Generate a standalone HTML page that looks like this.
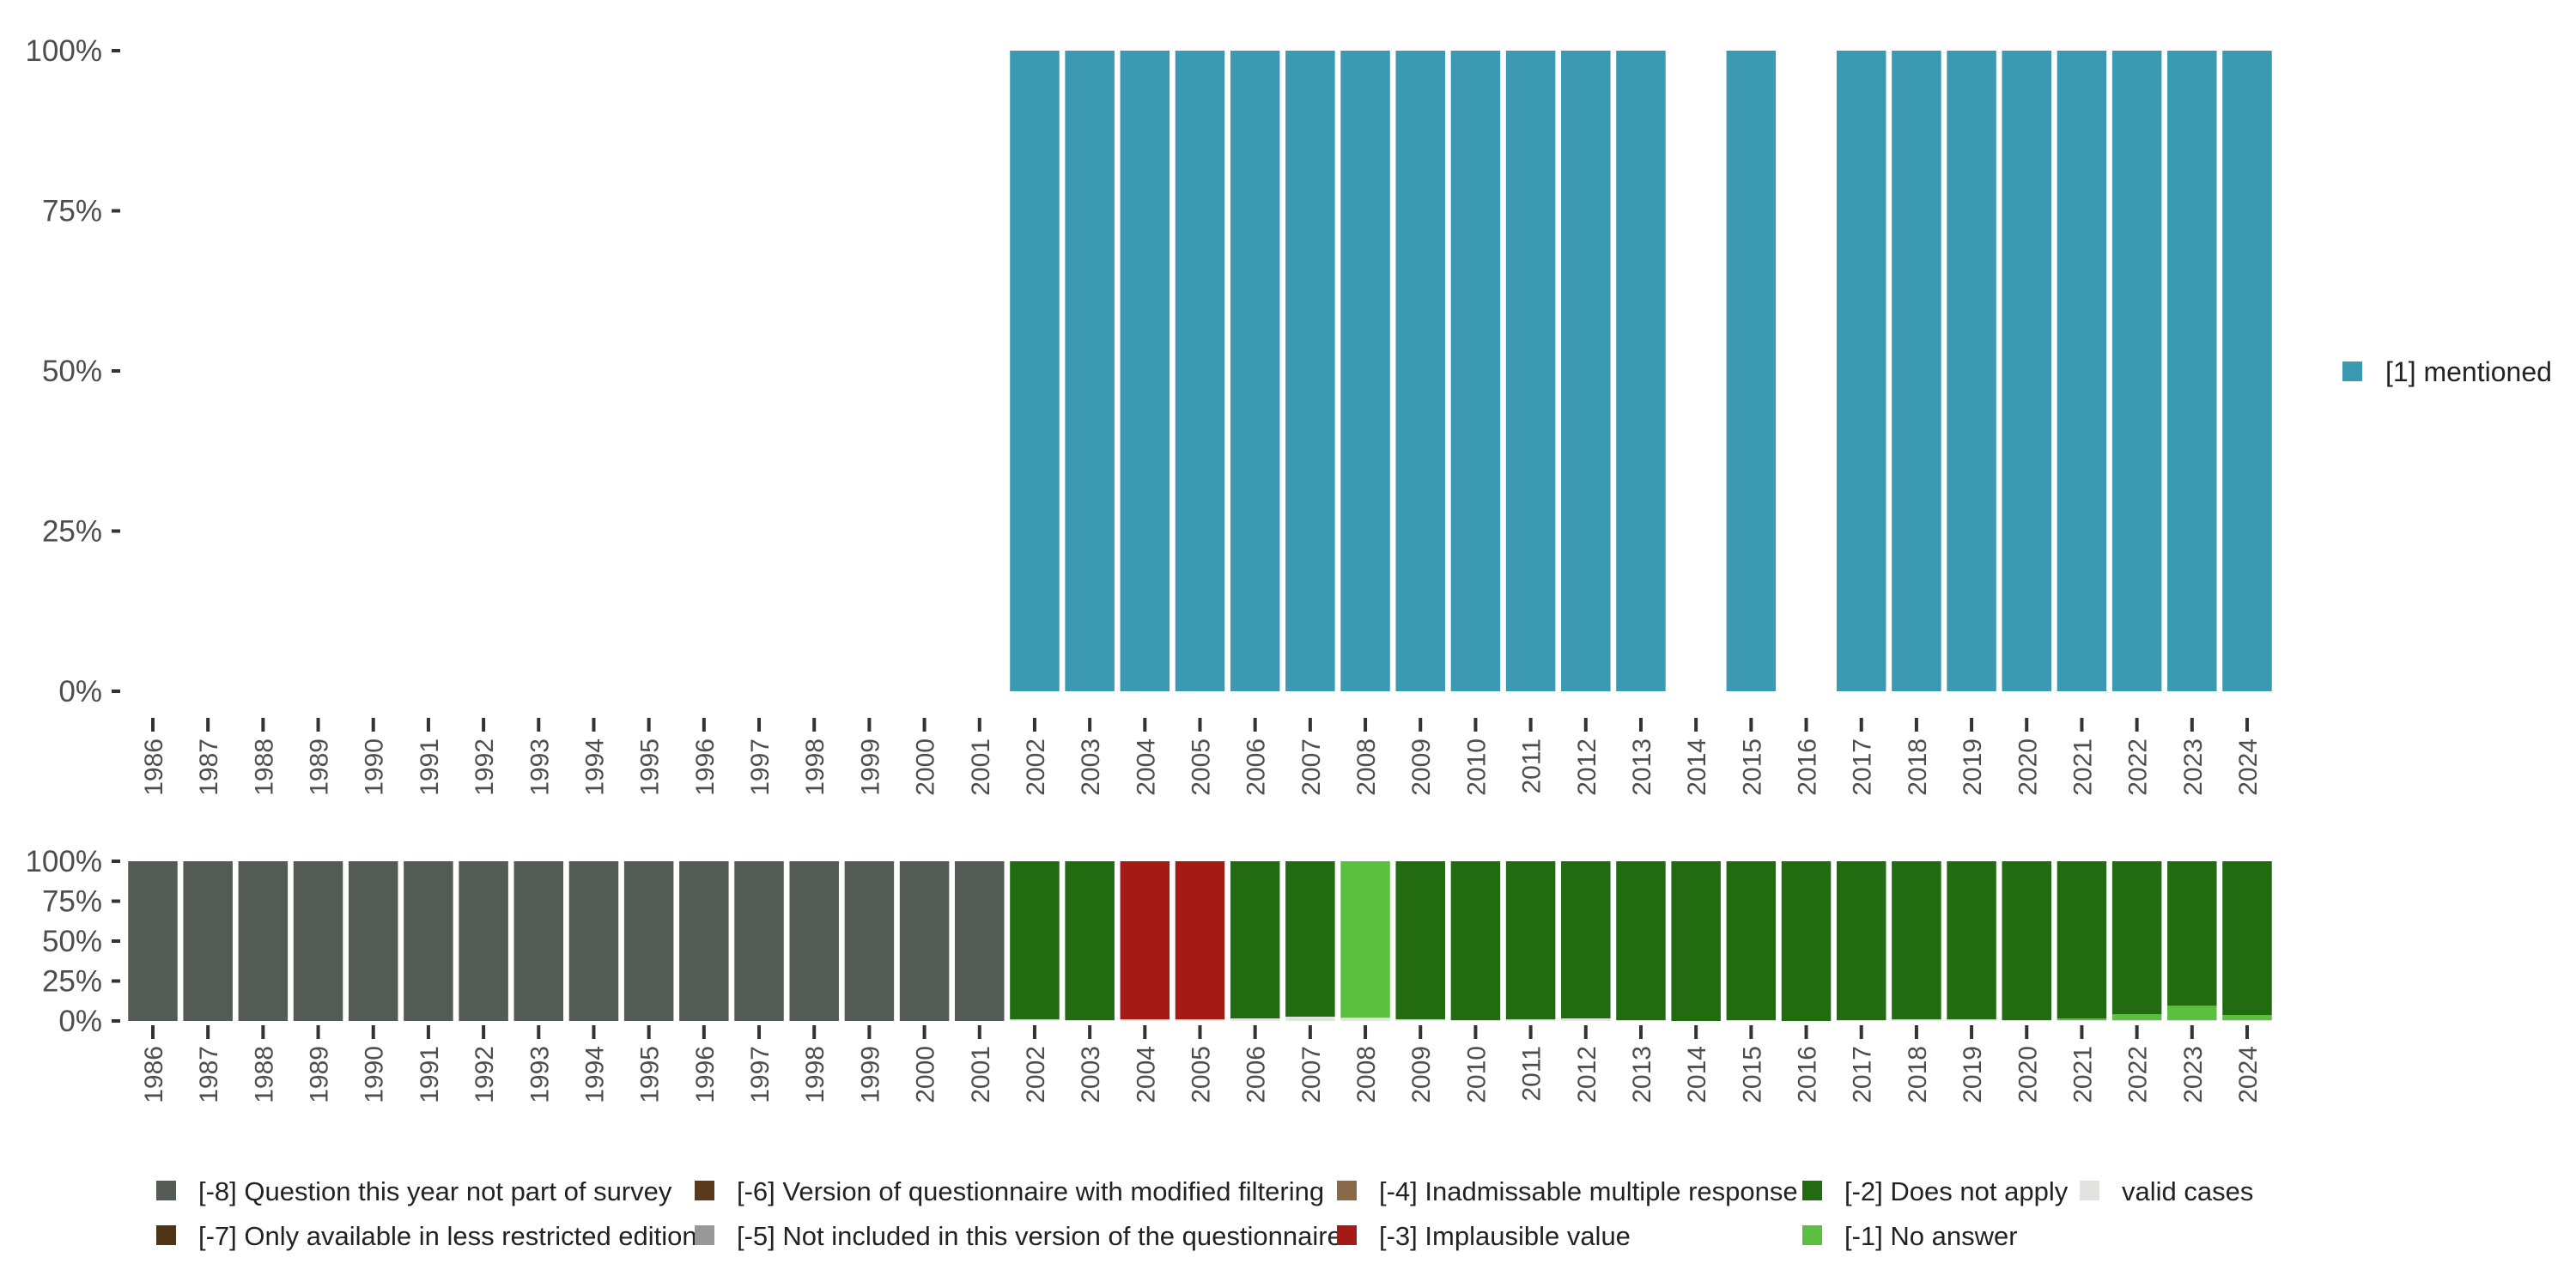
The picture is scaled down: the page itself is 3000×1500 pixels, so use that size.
<!DOCTYPE html>
<html><head><meta charset="utf-8"><style>
body{margin:0;background:#fff;font-family:"Liberation Sans","DejaVu Sans",sans-serif}
svg{display:block}
</style></head><body>
<svg id="c" width="3000" height="1500" xmlns="http://www.w3.org/2000/svg"></svg>
<script>
const years=[1986,1987,1988,1989,1990,1991,1992,1993,1994,1995,1996,1997,1998,1999,2000,2001,2002,2003,2004,2005,2006,2007,2008,2009,2010,2011,2012,2013,2014,2015,2016,2017,2018,2019,2020,2021,2022,2023,2024];
const mentioned=[0,0,0,0,0,0,0,0,0,0,0,0,0,0,0,0,100,100,100,100,100,100,100,100,100,100,100,100,0,100,0,100,100,100,100,100,100,100,100];
const valid=[0,0,0,0,0,0,0,0,0,0,0,0,0,0,0,0,1,0.5,1,1,1.6,2.7,2,1,0.5,1,1.6,0.5,0,0.5,0,0.5,1,1,0.5,0.5,0.5,0.5,0.5];
const noAnswer=[0,0,0,0,0,0,0,0,0,0,0,0,0,0,0,0,0,0,0,0,0,0,98,0,0,0,0,0,0,0,0,0,0,0,0,1,3.7,9,3.2];
const implausible=[0,0,0,0,0,0,0,0,0,0,0,0,0,0,0,0,0,0,99,99,0,0,0,0,0,0,0,0,0,0,0,0,0,0,0,0,0,0,0];
const notPart=[100,100,100,100,100,100,100,100,100,100,100,100,100,100,100,100,0,0,0,0,0,0,0,0,0,0,0,0,0,0,0,0,0,0,0,0,0,0,0];
const yTicks=[0,25,50,75,100];
const NS="http://www.w3.org/2000/svg",svg=document.getElementById('c');
function el(t,a,p){const e=document.createElementNS(NS,t);for(const k in a)e.setAttribute(k,a[k]);(p||svg).appendChild(e);return e;}
const x0=178,step=(2617-178)/38,bw=57.5;
const xc=i=>x0+i*step;
const yTop=v=>805-(805-59)*v/100;
const yBot=v=>1189-(1189-1003)*v/100;
const C={m:'#3b9ab2',valid:'#e0e3e0',na:'#5bbf40',dna:'#226b11',imp:'#a51a15',np:'#545b55'};
years.forEach((y,i)=>{
 if(mentioned[i]>0){const r=el('rect',{x:xc(i)-bw/2,y:yTop(mentioned[i]),width:bw,height:yTop(0)-yTop(mentioned[i]),fill:C.m});
 
 }
 const dna=Math.max(0,100-valid[i]-noAnswer[i]-implausible[i]-notPart[i]);
 const segs=[[valid[i],C.valid,'valid'],[noAnswer[i],C.na,'no-answer'],[dna,C.dna,'does-not-apply'],[implausible[i],C.imp,'implausible'],[notPart[i],C.np,'not-part']];
 let acc=0;
 segs.forEach(s=>{if(s[0]<=0)return;const r=el('rect',{x:xc(i)-bw/2,y:yBot(acc+s[0]),width:bw,height:yBot(acc)-yBot(acc+s[0]),fill:s[1]});
 
 
 acc+=s[0];});
 [[836,852,850],[1194,1210,1208]].forEach(q=>{
  el('line',{x1:xc(i),x2:xc(i),y1:q[0],y2:q[1],stroke:'#333','stroke-width':4});
  const t=el('text',{x:0,y:0,transform:`translate(${xc(i)+11},${q[2]+10}) rotate(-90)`,'text-anchor':'end','font-size':30,fill:'#4d4d4d'});
  t.textContent=y;
  
  
 });
});
yTicks.forEach(v=>{
 el('line',{x1:130,x2:140,y1:yTop(v),y2:yTop(v),stroke:'#333','stroke-width':4});
 let t=el('text',{x:119,y:yTop(v)+12,'text-anchor':'end','font-size':35,fill:'#4d4d4d'});t.textContent=v+'%';
 
 
 el('line',{x1:130,x2:140,y1:yBot(v),y2:yBot(v),stroke:'#333','stroke-width':4});
 t=el('text',{x:119,y:yBot(v)+12,'text-anchor':'end','font-size':35,fill:'#4d4d4d'});t.textContent=v+'%';
 
 
});
let g=el('g',{});


el('rect',{x:2728,y:421,width:23,height:23,fill:C.m},g);
let lt=el('text',{x:2778,y:444,'font-size':32,fill:'#222'},g);lt.textContent='[1] mentioned';
const legend=[
 [182,1387,'#545b55','[-8] Question this year not part of survey'],
 [182,1439,'#4e3414','[-7] Only available in less restricted edition'],
 [809,1387,'#5a3a1a','[-6] Version of questionnaire with modified filtering'],
 [809,1439,'#999999','[-5] Not included in this version of the questionnaire'],
 [1557,1387,'#8b6a4a','[-4] Inadmissable multiple response'],
 [1557,1439,'#a51a15','[-3] Implausible value'],
 [2099,1387,'#226b11','[-2] Does not apply'],
 [2099,1439,'#5bbf40','[-1] No answer'],
 [2422,1387,'#e0e3e0','valid cases']];
legend.forEach(l=>{
 const g=el('g',{});
 
 
 el('rect',{x:l[0],y:l[1]-12,width:23,height:23,fill:l[2]},g);
 const t=el('text',{x:l[0]+49,y:l[1]+11,'font-size':31,fill:'#222'},g);t.textContent=l[3];
});
</script>
</body></html>
